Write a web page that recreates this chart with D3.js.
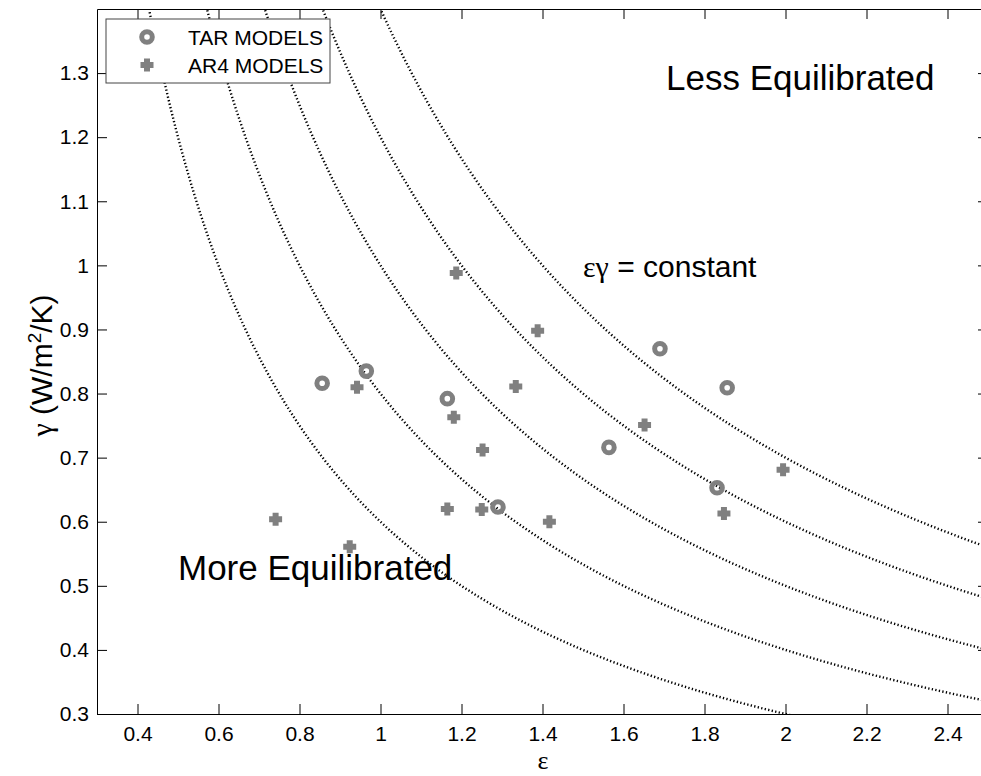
<!DOCTYPE html>
<html>
<head>
<meta charset="utf-8">
<script src="https://cdn.jsdelivr.net/npm/d3@7"></script>
<style>
  body { margin: 0; background: #fff; }
  svg { display: block; font-family: 'Liberation Sans', Arial, sans-serif; }
  .axis text { font-size: 20px; fill: #000; }
  .axis line, .axis path { stroke: #000; }
  .curve { fill: none; stroke: #000; stroke-width: 2.4; stroke-dasharray: 1.3 2.3; }
  .note { font-size: 35px; fill: #000; }
</style>
</head>
<body>
<div id="chart"></div>
<script>
// TAR models (open circles)
const tarEps   = [0.856, 0.965, 1.165, 1.290, 1.564, 1.690, 1.856, 1.831]
const tarGamma = [0.816, 0.835, 0.792, 0.623, 0.716, 0.870, 0.809, 0.653]

// AR4 models (plus markers)
const ar4Eps   = [0.741, 0.924, 0.942, 1.187, 1.181, 1.165, 1.252, 1.250, 1.334, 1.388, 1.417, 1.652, 1.848, 1.994]
const ar4Gamma = [0.604, 0.561, 0.810, 0.988, 0.763, 0.620, 0.712, 0.619, 0.811, 0.898, 0.600, 0.751, 0.613, 0.681]

// eps*gamma = constant curves
const constants = [0.6, 0.8, 1.0, 1.2, 1.4]

const xTicks = [0.4, 0.6, 0.8, 1, 1.2, 1.4, 1.6, 1.8, 2, 2.2, 2.4]
const yTicks = [0.3, 0.4, 0.5, 0.6, 0.7, 0.8, 0.9, 1, 1.1, 1.2, 1.3]

const W = 981, H = 776
const grey = '#808080'

const svg = d3.select('#chart').append('svg')
    .attr('width', W)
    .attr('height', H)

const x = d3.scaleLinear().domain([0.3, 2.5]).range([97, 988])
const y = d3.scaleLinear().domain([0.3, 1.4]).range([714, 9])

const [x0, x1] = x.range(), [y0, y1] = y.range()

svg.append('clipPath').attr('id', 'plot')
  .append('rect')
    .attr('x', x0).attr('y', y1)
    .attr('width', x1 - x0).attr('height', y0 - y1)

// curves
const epsGrid = d3.range(0.3, 2.51, 0.005)
const line = d3.line()
    .x(d => x(d[0]))
    .y(d => y(d[1]))

svg.append('g')
    .attr('clip-path', 'url(#plot)')
  .selectAll('.curve')
  .data(constants)
  .join('path')
    .attr('class', 'curve')
    .attr('d', c => line(epsGrid.map(e => [e, c / e]).filter(p => p[1] < 1.6)))

// axes (ticks inside, box)
const fmt = d => d3.format('~g')(d)
svg.append('g')
    .attr('class', 'axis')
    .attr('transform', `translate(0,${y0})`)
    .call(d3.axisBottom(x).tickValues(xTicks).tickFormat(fmt).tickSizeInner(-10).tickSizeOuter(0).tickPadding(12))
svg.append('g')
    .attr('class', 'axis')
    .attr('transform', `translate(0,${y1})`)
    .call(d3.axisTop(x).tickValues(xTicks).tickFormat('').tickSizeInner(-10).tickSizeOuter(0))
svg.append('g')
    .attr('class', 'axis')
    .attr('transform', `translate(${x0},0)`)
    .call(d3.axisLeft(y).tickValues(yTicks).tickFormat(fmt).tickSizeInner(-10).tickSizeOuter(0).tickPadding(8))
svg.append('g')
    .attr('class', 'axis')
    .attr('transform', `translate(${x1},0)`)
    .call(d3.axisRight(y).tickValues(yTicks).tickFormat('').tickSizeInner(-10).tickSizeOuter(0))

svg.selectAll('.axis .tick line').attr('stroke', '#444')
svg.selectAll('.axis text').style('font-size', '21px')

// markers
const tar = tarEps.map((e, i) => ({e, g: tarGamma[i]}))
const ar4 = ar4Eps.map((e, i) => ({e, g: ar4Gamma[i]}))

// chunky plus, like the matlab '+' drawn with a thick line
const plus = {
    draw(ctx) {
        const a = 6.5, b = 3
        ctx.moveTo(-a, -b); ctx.lineTo(-b, -b); ctx.lineTo(-b, -a); ctx.lineTo(b, -a)
        ctx.lineTo(b, -b); ctx.lineTo(a, -b); ctx.lineTo(a, b); ctx.lineTo(b, b)
        ctx.lineTo(b, a); ctx.lineTo(-b, a); ctx.lineTo(-b, b); ctx.lineTo(-a, b)
        ctx.closePath()
    }
}
const cross = d3.symbol().type(plus)

svg.append('g').selectAll('path')
  .data(ar4)
  .join('path')
    .attr('d', cross)
    .attr('transform', d => `translate(${x(d.e)},${y(d.g)})`)
    .attr('fill', grey)

svg.append('g').selectAll('circle')
  .data(tar)
  .join('circle')
    .attr('cx', d => x(d.e))
    .attr('cy', d => y(d.g))
    .attr('r', 5.3)
    .attr('fill', 'none')
    .attr('stroke', grey)
    .attr('stroke-width', 5)

// annotations
svg.append('text').attr('class', 'note')
    .attr('x', 666).attr('y', 90)
    .text('Less Equilibrated')
svg.append('text').attr('class', 'note')
    .attr('x', 178).attr('y', 580)
    .text('More Equilibrated')

const cst = svg.append('text')
    .attr('x', 583).attr('y', 277)
    .style('font-size', '30px')
cst.append('tspan').style('font-family', "'Liberation Serif', serif").text('εγ')
cst.append('tspan').text(' = constant')

// axis labels
svg.append('text')
    .attr('x', 543).attr('y', 769)
    .attr('text-anchor', 'middle')
    .style('font-family', "'Liberation Serif', serif")
    .style('font-size', '26px')
    .text('ε')

const yl = svg.append('text')
    .attr('transform', `translate(52,${(y0 + y1) / 2 + 4}) rotate(-90)`)
    .attr('text-anchor', 'middle')
    .style('font-size', '30px')
yl.append('tspan').style('font-family', "'Liberation Serif', serif").text('γ')
yl.append('tspan').text(' (W/m')
yl.append('tspan').attr('dy', -11).style('font-size', '19px').text('2')
yl.append('tspan').attr('dy', 11).text('/K)')

// legend
const lg = svg.append('g')
lg.append('rect')
    .attr('x', 106).attr('y', 19)
    .attr('width', 224).attr('height', 64)
    .attr('fill', '#fff')
    .attr('stroke', '#444')
lg.append('circle')
    .attr('cx', 147).attr('cy', 37).attr('r', 5.3)
    .attr('fill', 'none').attr('stroke', grey).attr('stroke-width', 5)
lg.append('path')
    .attr('d', cross)
    .attr('transform', 'translate(147,65)')
    .attr('fill', grey)
lg.selectAll('.lgtext')
  .data(['TAR MODELS', 'AR4 MODELS'])
  .join('text')
    .attr('x', 188)
    .attr('y', (d, i) => 45 + i * 28)
    .style('font-size', '21px')
    .text(d => d)
</script>
</body>
</html>
